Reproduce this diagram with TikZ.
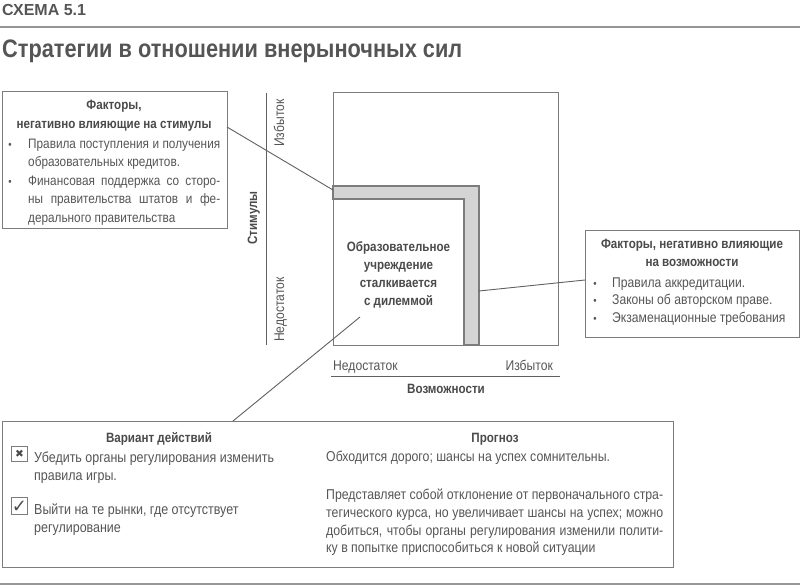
\documentclass[tikz,border=0pt]{standalone}
\usepackage{fontspec}
\setmainfont[FakeStretch=0.86]{Liberation Sans}
\newfontfamily\hdrfont{Liberation Sans}
\newfontfamily\symfont{DejaVu Sans}
\definecolor{txt}{HTML}{555555}
\definecolor{txtb}{HTML}{4A4A4A}
\definecolor{ln}{HTML}{7C7C7C}
\definecolor{cn}{HTML}{606060}
\definecolor{band}{HTML}{D4D4D4}
\newcommand{\jl}[2]{\makebox[#1][s]{#2}}
\begin{document}
\begin{tikzpicture}[x=1pt,y=-1pt,
  every node/.style={inner sep=0pt, text=txt},
  frame/.style={draw=ln, line width=1.3pt},
  conn/.style={draw=cn, line width=0.9pt},
  axis/.style={draw=cn, line width=1pt},
  rule/.style={draw=ln!80, line width=1.5pt},
  tx/.style={font=\fontsize{14.3}{16}\selectfont, anchor=base west},
  txl/.style={font=\fontsize{13.7}{16}\selectfont, anchor=base west},
  txr/.style={font=\fontsize{14.1}{16}\selectfont, anchor=base west},
  txb/.style={font=\bfseries\fontsize{13.5}{16}\selectfont, anchor=base, text=txtb},
  bul/.style={font=\fontsize{11}{12}\selectfont, anchor=base}
]
\useasboundingbox (0,0) rectangle (800,586);

% header
\node[font=\hdrfont\bfseries\fontsize{16}{18}\selectfont, anchor=base west] (hdr) at (2,16) {СХЕМА 5.1};
\coordinate (r1a) at (0,27); \coordinate (r1b) at (800,27);
\draw[rule] (r1a) -- (r1b);
\node[font=\bfseries\fontsize{25.3}{28}\selectfont, anchor=base west] (title) at (2,57) {Стратегии в отношении внерыночных сил};
\coordinate (r2a) at (0,584); \coordinate (r2b) at (800,584);
\draw[rule] (r2a) -- (r2b);

% left box
\node[frame, anchor=north west, minimum width=225pt, minimum height=137pt] (lb) at (2,91) {};
\node[txb] (lbh1) at (114,109) {Факторы,};
\node[txb] (lbh2) at (114,128) {негативно влияющие на стимулы};
\node[bul] (lbb1) at (10,148) {•};
\node[txl] (lbt1) at (28,148) {\jl{192pt}{Правила поступления и получения}};
\node[txl] (lbt2) at (28,166) {образовательных кредитов.};
\node[bul] (lbb2) at (10,185) {•};
\node[txl] (lbt3) at (28,185) {\jl{192pt}{Финансовая поддержка со сторо-}};
\node[txl] (lbt4) at (28,203) {\jl{192pt}{ны правительства штатов и фе-}};
\node[txl] (lbt5) at (28,222) {дерального правительства};

% vertical axis
\coordinate (va) at (266,93); \coordinate (vb) at (266,345);
\draw[axis] (va) -- (vb);
\node[txr, rotate=90] (vex) at (284,147) {Избыток};
\node[txr, rotate=90] (vdef) at (284,342) {Недостаток};
\node[txb, rotate=90] (vlab) at (257,218) {Стимулы};

% main square
\filldraw[fill=band, draw=ln, line width=1.2pt] (333,186) -- (479,186) -- (479,345) -- (464,345) -- (464,199) -- (333,199) -- cycle;
\node[frame, anchor=north west, minimum width=225pt, minimum height=253pt] (sq) at (333,92) {};
\node[txb] (in1) at (398.5,251) {Образовательное};
\node[txb] (in2) at (398.5,269) {учреждение};
\node[txb] (in3) at (398.5,287) {сталкивается};
\node[txb] (in4) at (398.5,305) {с дилеммой};

% horizontal axis
\coordinate (ha) at (331,376); \coordinate (hb) at (560,376);
\draw[axis] (ha) -- (hb);
\node[txr] (hdef) at (333,370) {Недостаток};
\node[txr, anchor=base east] (hex) at (553,370) {Избыток};
\node[txb] (hlab) at (446,393) {Возможности};

% right box
\node[frame, anchor=north west, minimum width=214pt, minimum height=107pt] (rb) at (585,230) {};
\node[txb] (rbh1) at (692,248) {Факторы, негативно влияющие};
\node[txb] (rbh2) at (692,266) {на возможности};
\node[bul] (rbb1) at (595,287) {•};
\node[txr] (rbt1) at (612,287) {Правила аккредитации.};
\node[bul] (rbb2) at (595,304) {•};
\node[txr] (rbt2) at (612,304) {Законы об авторском праве.};
\node[bul] (rbb3) at (595,322) {•};
\node[txr] (rbt3) at (612,322) {Экзаменационные требования};

% bottom box
\node[frame, anchor=north west, minimum width=671pt, minimum height=146pt] (bb) at (2,421) {};
\node[txb] (bbh1) at (159,442) {Вариант действий};
\node[txb] (bbh2) at (495,442) {Прогноз};
\node[draw=ln, line width=0.9pt, anchor=north west, minimum width=16pt, minimum height=15pt] (cb1) at (11,446) {};
\node[font=\symfont\fontsize{10.5}{11}\selectfont, text=txtb] (x1) at (cb1.center) {✖};
\node[draw=ln, line width=0.9pt, anchor=north west, minimum width=16pt, minimum height=17pt] (cb2) at (11,497) {};
\node[font=\symfont\fontsize{18}{18}\selectfont, text=txtb] (x2) at ([yshift=-0.5pt]cb2.center) {✓};
\node[tx, font=\fontsize{14.5}{16}\selectfont] (o1a) at (34,462) {Убедить органы регулирования изменить};
\node[tx, font=\fontsize{14.5}{16}\selectfont] (o1b) at (34,480) {правила игры.};
\node[tx, font=\fontsize{14.5}{16}\selectfont] (o2a) at (34,514) {Выйти на те рынки, где отсутствует};
\node[tx, font=\fontsize{14.5}{16}\selectfont] (o2b) at (34,532) {регулирование};
\node[tx] (p1) at (326,461) {Обходится дорого; шансы на успех сомнительны.};
\node[tx] (p2a) at (326,499) {\jl{337pt}{Представляет собой отклонение от первоначального стра-}};
\node[tx] (p2b) at (326,517) {\jl{337pt}{тегического курса, но увеличивает шансы на успех; можно}};
\node[tx] (p2c) at (326,535) {\jl{337pt}{добиться, чтобы органы регулирования изменили полити-}};
\node[tx] (p2d) at (326,552.5) {ку в попытке приспособиться к новой ситуации};

% connectors
\coordinate (lbpin) at (227,127);
\coordinate (bandL) at (333,190);
\draw[conn] (lbpin) -- (bandL);
\coordinate (rbpin) at (585,280);
\coordinate (bandR) at (479,291);
\draw[conn] (rbpin) -- (bandR);
\coordinate (bbpin) at (233,421);
\coordinate (inpt) at (360,317);
\draw[conn] (bbpin) -- (inpt);
\end{tikzpicture}
\end{document}
